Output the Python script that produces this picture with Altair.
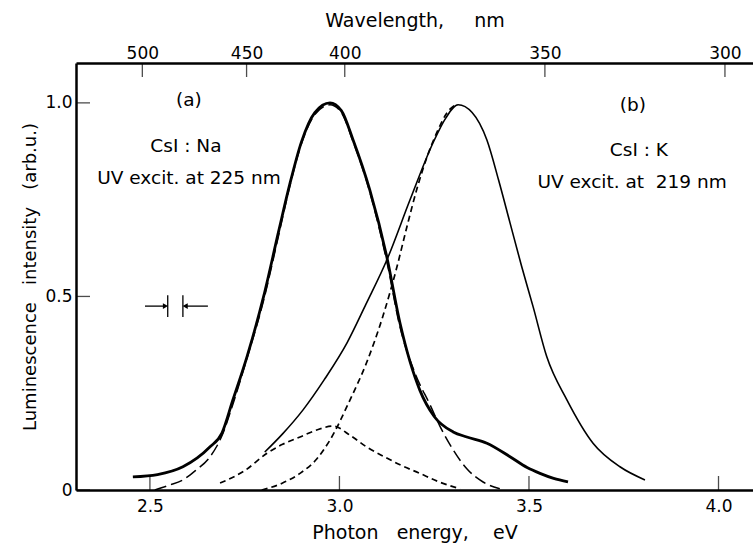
import altair as alt
import pandas as pd

FONT = "DejaVu Sans"

# CsI:Na emission spectrum (thick solid) and its single-band fit (long dashes)
na_energy = [2.455, 2.52, 2.587, 2.658, 2.69, 2.719, 2.756, 2.80, 2.84, 2.869, 2.90, 2.935,
             2.975, 3.005, 3.036, 3.08, 3.125, 3.16, 3.212, 3.25, 3.30, 3.336, 3.389,
             3.45, 3.495, 3.529, 3.565, 3.603]
na_intensity = [0.034, 0.040, 0.060, 0.111, 0.147, 0.233, 0.344, 0.50, 0.67, 0.79, 0.90, 0.975,
                1.0, 0.98, 0.904, 0.775, 0.602, 0.43, 0.258, 0.19, 0.15, 0.137, 0.121,
                0.086, 0.058, 0.043, 0.030, 0.021]

na_fit_energy = [2.513, 2.55, 2.587, 2.62, 2.658, 2.69, 2.72, 2.756, 2.80, 2.84, 2.869, 2.90,
                 2.935, 2.975, 3.005, 3.036, 3.08, 3.125, 3.16, 3.20, 3.239, 3.265, 3.29,
                 3.336, 3.38, 3.423]
na_fit_intensity = [0.0, 0.012, 0.026, 0.05, 0.085, 0.14, 0.225, 0.34, 0.49, 0.66, 0.785, 0.895,
                    0.97, 0.995, 0.975, 0.9, 0.77, 0.59, 0.42, 0.30, 0.22, 0.165, 0.12,
                    0.055, 0.02, 0.003]

# CsI:K emission spectrum (thin solid) and its two components (short dashes)
k_energy = [2.803, 2.85, 2.904, 2.96, 3.02, 3.07, 3.125, 3.186, 3.247, 3.28, 3.313, 3.35,
            3.389, 3.42, 3.45, 3.48, 3.511, 3.547, 3.60, 3.669, 3.74, 3.806]
k_intensity = [0.098, 0.145, 0.207, 0.285, 0.38, 0.48, 0.594, 0.749, 0.897, 0.96, 0.995, 0.975,
               0.904, 0.80, 0.69, 0.58, 0.473, 0.344, 0.233, 0.121, 0.06, 0.026]

k_main_energy = [2.795, 2.85, 2.896, 2.94, 2.975, 3.028, 3.072, 3.115, 3.15, 3.178, 3.205,
                 3.231, 3.26, 3.284, 3.31]
k_main_intensity = [0.0, 0.018, 0.043, 0.08, 0.129, 0.233, 0.33, 0.45, 0.57, 0.68, 0.78,
                    0.86, 0.93, 0.975, 0.997]

k_minor_energy = [2.685, 2.75, 2.809, 2.85, 2.896, 2.94, 2.983, 3.03, 3.072, 3.12, 3.16,
                  3.212, 3.26, 3.318]
k_minor_intensity = [0.018, 0.05, 0.095, 0.118, 0.137, 0.155, 0.165, 0.14, 0.111, 0.085, 0.065,
                     0.043, 0.022, 0.003]

# Axes
energy_ticks = [2.5, 3.0, 3.5, 4.0]
intensity_ticks = [0.0, 0.5, 1.0]
wavelength_labels = ["500", "450", "400", "350", "300"]
wavelength_tick_ev = [2.48, 2.755, 3.014, 3.542, 4.017]
X_DOMAIN = [2.305, 4.091]
Y_DOMAIN = [0.0, 1.103]

# Panel labels
note_text = ["(a)", "CsI : Na", "UV excit. at\u00a0225 nm", "(b)", "CsI : K", "UV excit.\u00a0at\u00a0\u00a0219\u00a0nm"]
note_energy = [2.603, 2.595, 2.603, 3.774, 3.79, 3.772]
note_intensity = [1.008, 0.889, 0.806, 0.995, 0.879, 0.796]

# Spectral resolution marker: two bars with inward arrows
slit_energy = [2.547, 2.587]
arrow_tail = [2.487, 2.653]
arrow_head = [2.541, 2.593]
arrow_shape = ["triangle-right", "triangle-left"]
slit_level = 0.475
slit_half = 0.028

x_scale = alt.Scale(domain=X_DOMAIN, nice=False, zero=False)
y_scale = alt.Scale(domain=Y_DOMAIN, nice=False, zero=False)


def frame(e, v):
    return pd.DataFrame({"E": e, "v": v})


def curve(df, width, dash=None):
    kw = dict(color="black", strokeWidth=width, interpolate="monotone", clip=True)
    if dash is not None:
        kw["strokeDash"] = dash
    return alt.Chart(df).mark_line(**kw).encode(
        x=alt.X("E:Q", scale=x_scale, axis=None),
        y=alt.Y("v:Q", scale=y_scale, axis=None),
    )


bottom_axis = alt.Axis(
    orient="bottom", values=energy_ticks, format=".1f", ticks=False, tickSize=0,
    domainColor="black", domainWidth=2.5, labelFont=FONT, labelFontSize=17,
    labelColor="black", labelPadding=8,
    title="Photon\u00a0\u00a0\u00a0energy,\u00a0\u00a0\u00a0\u00a0eV",
    titleFont=FONT, titleFontSize=19, titleFontWeight="normal", titleColor="black",
    titlePadding=9, grid=False,
)
left_axis = alt.Axis(
    orient="left", values=intensity_ticks, ticks=False, tickSize=0,
    labelExpr="datum.value == 0 ? '0' : format(datum.value, '.1f')",
    domainColor="black", domainWidth=2.5, labelFont=FONT, labelFontSize=17,
    labelColor="black", labelPadding=4,
    title="Luminescence\u00a0\u00a0\u00a0intensity\u00a0\u00a0\u00a0(arb.u.)",
    titleFont=FONT, titleFontSize=18, titleFontWeight="normal", titleColor="black",
    titlePadding=5, grid=False,
)
top_label_expr = " : ".join(
    f"abs(datum.value - {e}) < 0.005 ? '{lab}'" for e, lab in zip(wavelength_tick_ev, wavelength_labels)
) + " : ''"
top_axis = alt.Axis(
    orient="top", values=wavelength_tick_ev, ticks=False, tickSize=0,
    labelExpr=top_label_expr, domainColor="black", domainWidth=2.5,
    labelFont=FONT, labelFontSize=17, labelColor="black", labelPadding=1,
    title="Wavelength,\u00a0\u00a0\u00a0\u00a0\u00a0nm", titleFont=FONT, titleFontSize=19,
    titleFontWeight="normal", titleColor="black", titlePadding=14, grid=False,
)

# Inward-pointing tick marks; these layers also carry the axes
bottom_ticks = alt.Chart(pd.DataFrame({"E": energy_ticks})).mark_tick(
    color="black", orient="vertical", size=14, thickness=1.3, yOffset=-7
).encode(
    x=alt.X("E:Q", scale=x_scale, axis=bottom_axis),
    y=alt.Y("v:Q", scale=y_scale, axis=None),
).transform_calculate(v="0")

top_ticks = alt.Chart(pd.DataFrame({"E": wavelength_tick_ev})).mark_tick(
    color="black", orient="vertical", size=14, thickness=1.3, yOffset=7
).encode(
    x=alt.X("E:Q", scale=x_scale, axis=top_axis),
    y=alt.Y("v:Q", scale=y_scale, axis=None),
).transform_calculate(v=str(Y_DOMAIN[1]))

left_ticks = alt.Chart(pd.DataFrame({"v": intensity_ticks})).mark_tick(
    color="black", orient="horizontal", size=14, thickness=1.3, xOffset=7
).encode(
    x=alt.X("E:Q", scale=x_scale, axis=None),
    y=alt.Y("v:Q", scale=y_scale, axis=left_axis),
).transform_calculate(E=str(X_DOMAIN[0]))

na_line = curve(frame(na_energy, na_intensity), 2.8)
na_fit = curve(frame(na_fit_energy, na_fit_intensity), 1.5, [12, 5])
k_line = curve(frame(k_energy, k_intensity), 1.6)
k_main = curve(frame(k_main_energy, k_main_intensity), 1.7, [6, 4])
k_minor = curve(frame(k_minor_energy, k_minor_intensity), 1.7, [6, 4])

notes = alt.Chart(pd.DataFrame({"E": note_energy, "v": note_intensity, "t": note_text})).mark_text(
    font=FONT, fontSize=18.5, color="black", align="center", baseline="middle"
).encode(
    x=alt.X("E:Q", scale=x_scale, axis=None),
    y=alt.Y("v:Q", scale=y_scale, axis=None),
    text="t:N",
)

slit_df = pd.DataFrame({"E": slit_energy, "lo": [slit_level - slit_half] * 2, "hi": [slit_level + slit_half] * 2})
slit_bars = alt.Chart(slit_df).mark_rule(color="black", strokeWidth=1.3).encode(
    x=alt.X("E:Q", scale=x_scale, axis=None),
    y=alt.Y("lo:Q", scale=y_scale, axis=None),
    y2="hi:Q",
)
arrow_df = pd.DataFrame({"a": arrow_tail, "b": arrow_head, "v": [slit_level] * 2, "s": arrow_shape})
arrow_shafts = alt.Chart(arrow_df).mark_rule(color="black", strokeWidth=1.3).encode(
    x=alt.X("a:Q", scale=x_scale, axis=None),
    x2="b:Q",
    y=alt.Y("v:Q", scale=y_scale, axis=None),
)
arrow_heads = alt.Chart(arrow_df).mark_point(filled=True, color="black", size=35, opacity=1).encode(
    x=alt.X("b:Q", scale=x_scale, axis=None),
    y=alt.Y("v:Q", scale=y_scale, axis=None),
    shape=alt.Shape("s:N", scale=None, legend=None),
)

chart = alt.layer(
    bottom_ticks, top_ticks, left_ticks,
    k_minor, k_main, na_fit, k_line, na_line,
    slit_bars, arrow_shafts, arrow_heads, notes,
).resolve_axis(x="independent", y="independent").properties(
    width=677, height=427,
    autosize=alt.AutoSizeParams(type="none"),
    padding={"left": 76, "top": 63, "right": 0, "bottom": 55},
    background="white",
).configure_view(stroke=None)

chart.save("out.html", embed_options={"renderer": "svg", "actions": False})
